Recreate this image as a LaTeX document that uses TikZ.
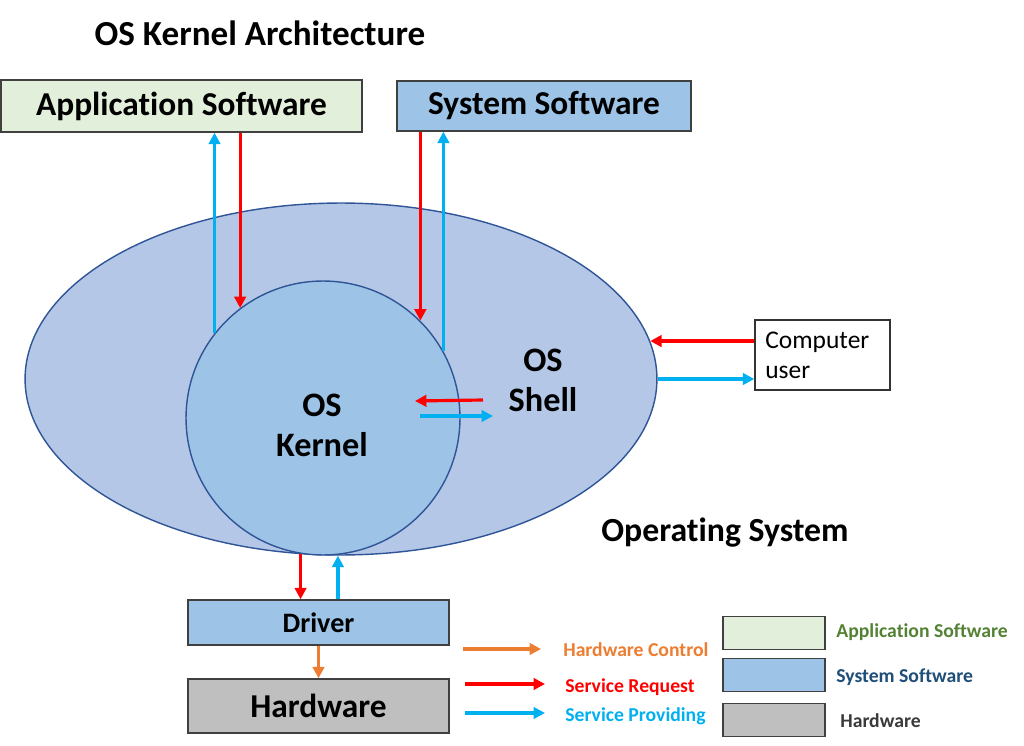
\documentclass[tikz,border=0pt]{standalone}
\usepackage{fontspec}
\setmainfont[Ligatures=NoCommon]{Carlito}
\usetikzlibrary{shapes.geometric,arrows.meta,calc}
\definecolor{appgreen}{HTML}{E2EFDA}
\definecolor{sysblue}{HTML}{9DC3E6}
\definecolor{osfill}{HTML}{B4C7E7}
\definecolor{osline}{HTML}{2F5597}
\definecolor{hwgray}{HTML}{BFBFBF}
\definecolor{reqred}{HTML}{FF0000}
\definecolor{provblue}{HTML}{00B0F0}
\definecolor{ctrlorange}{HTML}{ED7D31}
\definecolor{legapp}{HTML}{548235}
\definecolor{legsys}{HTML}{1F4E79}
\definecolor{leghw}{HTML}{3A3A3A}
\tikzset{
  boxbase/.style={draw=black!75, line width=0.8pt, inner sep=0pt, font=\bfseries},
  sr/.style={draw=reqred, line width=1.8pt, -{Triangle[length=6.5pt,width=6.5pt]}},
  sp/.style={draw=provblue, line width=1.8pt, -{Triangle[length=6.5pt,width=6.5pt]}},
  hc/.style={draw=ctrlorange, line width=1.8pt, -{Triangle[length=6.5pt,width=6.5pt]}},
  legbox/.style={draw=black!75, line width=0.8pt, minimum width=2.04cm, minimum height=0.67cm, inner sep=0pt},
  legtxt/.style={anchor=west, font=\fontsize{11.2pt}{13pt}\selectfont\bfseries, inner sep=0pt},
}
\begin{document}
\begin{tikzpicture}[x=0.02cm, y=-0.02cm]
\fill[white] (0,0) rectangle (1024,746);
\useasboundingbox (0,0) rectangle (1024,746);

% title
\node[font=\fontsize{20pt}{24pt}\selectfont\bfseries] (title) at (260,33) {OS Kernel Architecture};

% top boxes
\node[boxbase, fill=appgreen, minimum width=7.22cm, minimum height=1.04cm,
      font=\fontsize{19pt}{22pt}\selectfont\bfseries] (app) at (181.5,106) {Application Software};
\node[boxbase, fill=sysblue, minimum width=5.88cm, minimum height=1.0cm,
      font=\fontsize{19pt}{22pt}\selectfont\bfseries] (sys) at (544,106) {System Software};

% operating system ellipse and kernel circle
\node[ellipse, draw=osline, line width=0.8pt, fill=osfill, inner sep=0pt,
      minimum width=12.64cm, minimum height=7.04cm] (os) at (341,379) {};
\node[circle, draw=osline, line width=0.8pt, fill=sysblue, inner sep=0pt,
      minimum size=5.48cm] (kernel) at (323,418) {};
\node[align=center, font=\fontsize{19.5pt}{22.7pt}\selectfont\bfseries] (kerneltxt) at (322,425) {OS\\Kernel};
\node[align=center, font=\fontsize{19.5pt}{22.7pt}\selectfont\bfseries] (shelltxt) at (543,380) {OS\\Shell};
\node[font=\fontsize{19.2pt}{22pt}\selectfont\bfseries] (ostxt) at (725,533) {Operating System};

% computer user
\node[draw=black!80, line width=0.8pt, minimum width=2.7cm, minimum height=1.4cm, inner sep=0pt] (user) at (822.5,355) {};
\node[anchor=west, align=left, font=\fontsize{14.5pt}{17pt}\selectfont, inner sep=0pt] (usertxt) at (765,355) {Computer\\user};

% driver and hardware
\node[boxbase, fill=sysblue, minimum width=5.22cm, minimum height=0.9cm,
      font=\fontsize{16pt}{19pt}\selectfont\bfseries] (driver) at (318.5,622.5) {Driver};
\node[boxbase, fill=hwgray, minimum width=5.22cm, minimum height=1.08cm,
      font=\fontsize{19pt}{22pt}\selectfont\bfseries] (hw) at (318.5,706) {Hardware};

% application software arrows
\draw[sp] (kernel.142.7) -- (kernel.142.7 |- app.south);
\draw[sr] (kernel.127.3 |- app.south) -- (kernel.127.3);
% system software arrows
\draw[sr] (kernel.45.5 |- sys.south) -- (kernel.45.5);
\draw[sp] (kernel.29.7) -- (kernel.29.7 |- sys.south);

% shell <-> kernel
\coordinate (shR) at (483,400);
\coordinate (knR) at (415,401);
\coordinate (knP) at (420,416);
\coordinate (shP) at (493,416);
\draw[sr] (shR) -- (knR);
\draw[sp] (knP) -- (shP);

% user <-> shell
\draw[sr] (os.7 -| user.west) -- (os.7);
\draw[sp] (os.0) -- (os.0 -| user.west);

% kernel <-> driver
\draw[sr] (os.-103.2) -- (os.-103.2 |- driver.north);
\draw[sp] (os.-91.6 |- driver.north) -- (os.-91.6);
\draw[hc] (driver.south) -- (hw.north);

% legend arrows
\coordinate (la1) at (463,649); \coordinate (lb1) at (541,649);
\coordinate (la2) at (465,684); \coordinate (lb2) at (545,684);
\coordinate (la3) at (465,713); \coordinate (lb3) at (545,713);
\draw[hc] (la1) -- (lb1);
\draw[sr] (la2) -- (lb2);
\draw[sp] (la3) -- (lb3);
\node[legtxt, text=ctrlorange] (lt1) at (563,650) {Hardware Control};
\node[legtxt, text=reqred] (lt2) at (565,687) {Service Request};
\node[legtxt, text=provblue] (lt3) at (565,716) {Service Providing};

% legend boxes
\node[legbox, fill=appgreen] (lg1) at (774,633) {};
\node[legbox, fill=sysblue] (lg2) at (774,675) {};
\node[legbox, fill=hwgray] (lg3) at (774,720) {};
\node[legtxt, text=legapp] (lgt1) at (836,632) {Application Software};
\node[legtxt, text=legsys] (lgt2) at (836,677) {System Software};
\node[legtxt, text=leghw] (lgt3) at (840,721) {Hardware};
\end{tikzpicture}
\end{document}
